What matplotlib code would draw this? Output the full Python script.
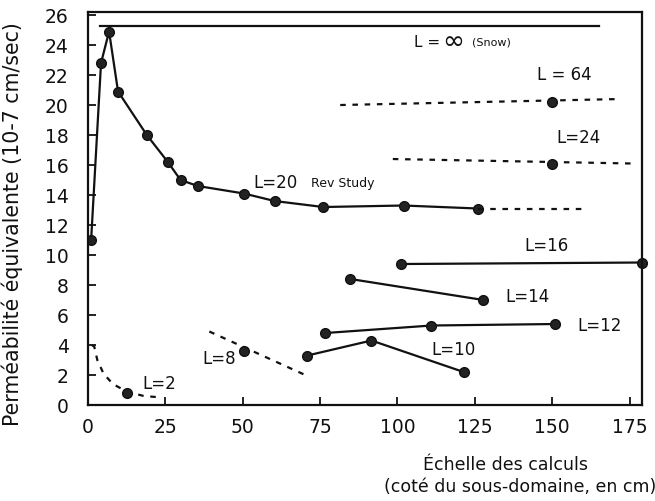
import matplotlib
matplotlib.use("Agg")
import matplotlib.pyplot as plt

plt.rcParams['font.family'] = ['DejaVu Sans']

# ---- data ----
snow_x = [4, 165]
snow_y = [25.3, 25.3]

l20_x = [1, 4.2, 6.8, 9.7, 19, 25.8, 29.9, 35.5, 50.4, 60.3, 76, 102, 126]
l20_y = [11.0, 22.8, 24.9, 20.9, 18.0, 16.2, 15.0, 14.6, 14.1, 13.6, 13.2, 13.3, 13.1]
l20_ext_x = [126, 160]
l20_ext_y = [13.1, 13.1]

l64_line_x = [81.5, 172]
l64_line_y = [20.0, 20.4]
l64_pt_x = [150]
l64_pt_y = [20.2]

l24_line_x = [98.5, 176]
l24_line_y = [16.4, 16.1]
l24_pt_x = [150]
l24_pt_y = [16.1]

l16_x = [101, 179]
l16_y = [9.4, 9.5]

l14_x = [84.8, 127.8]
l14_y = [8.4, 7.0]

l12_x = [76.7, 111, 151]
l12_y = [4.8, 5.3, 5.4]

l10_x = [70.9, 91.6, 121.4]
l10_y = [3.3, 4.3, 2.2]

l8_line_x = [39.2, 70.2]
l8_line_y = [4.9, 2.0]
l8_pt_x = [50.5]
l8_pt_y = [3.6]

l2_line_x = [1.2, 2.0, 3, 5, 8, 12.5, 18, 24]
l2_line_y = [4.0, 3.9, 3.0, 2.1, 1.4, 0.9, 0.6, 0.5]
l2_pt_x = [12.6]
l2_pt_y = [0.8]

xticks = [0, 25, 50, 75, 100, 125, 150, 175]
yticks = [0, 2, 4, 6, 8, 10, 12, 14, 16, 18, 20, 22, 24, 26]

# ---- figure ----
fig = plt.figure(figsize=(6.55, 5.01), dpi=100)
ax = fig.add_axes([0.1344, 0.1916, 0.8456, 0.7844])
ax.set_xlim(0, 179)
ax.set_ylim(0, 26.2)

k = '#111111'
mk = dict(marker='o', markersize=7, markerfacecolor='#222222', markeredgecolor='#111111')
dash = dict(color=k, lw=1.6, linestyle=(0, (2.5, 3)))

ax.plot(snow_x, snow_y, color=k, lw=1.6)
ax.plot(l20_x, l20_y, color=k, lw=1.6, **mk)
ax.plot(l20_ext_x, l20_ext_y, **dash)
ax.plot(l64_line_x, l64_line_y, **dash)
ax.plot(l64_pt_x, l64_pt_y, linestyle='none', **mk)
ax.plot(l24_line_x, l24_line_y, **dash)
ax.plot(l24_pt_x, l24_pt_y, linestyle='none', **mk)
ax.plot(l16_x, l16_y, color=k, lw=1.6, clip_on=False, **mk)
ax.plot(l14_x, l14_y, color=k, lw=1.6, **mk)
ax.plot(l12_x, l12_y, color=k, lw=1.6, **mk)
ax.plot(l10_x, l10_y, color=k, lw=1.6, **mk)
ax.plot(l8_line_x, l8_line_y, **dash)
ax.plot(l8_pt_x, l8_pt_y, linestyle='none', **mk)
ax.plot(l2_line_x, l2_line_y, **dash)
ax.plot(l2_pt_x, l2_pt_y, linestyle='none', **mk)

# labels
ax.text(105.5, 24.15, 'L =', fontsize=11, color=k, va='center')
ax.text(114.5, 24.2, '∞', fontsize=19, color=k, va='center')
ax.text(124.0, 24.2, '(Snow)', fontsize=8, color=k, va='center')
ax.text(145, 22.0, 'L = 64', fontsize=12, color=k, va='center')
ax.text(151.5, 17.8, 'L=24', fontsize=12, color=k, va='center')
ax.text(53.5, 14.8, 'L=20', fontsize=12, color=k, va='center')
ax.text(72, 14.8, 'Rev Study', fontsize=9, color=k, va='center')
ax.text(141, 10.6, 'L=16', fontsize=12, color=k, va='center')
ax.text(135, 7.2, 'L=14', fontsize=12, color=k, va='center')
ax.text(158, 5.3, 'L=12', fontsize=12, color=k, va='center')
ax.text(111, 3.7, 'L=10', fontsize=12, color=k, va='center')
ax.text(37, 3.1, 'L=8', fontsize=12, color=k, va='center')
ax.text(17.5, 1.4, 'L=2', fontsize=12, color=k, va='center')

ax.set_xticks(xticks)
ax.set_yticks(yticks)
ax.tick_params(axis='both', direction='in', length=6, width=1.3, labelsize=13.5, colors=k)
ax.tick_params(axis='y', pad=14)
ax.tick_params(axis='x', pad=9)
for s in ax.spines.values():
    s.set_linewidth(1.6)
    s.set_color(k)

ax.set_ylabel('Perméabilité équivalente (10-7 cm/sec)', fontsize=14.8, color=k, labelpad=1)
ax.yaxis.set_label_coords(-0.118, 0.46)
fig.text(0.7725, 0.072, 'Échelle des calculs', fontsize=12.5, ha='center', va='center', color=k)
fig.text(0.794, 0.028, '(coté du sous-domaine, en cm)', fontsize=12.5, ha='center', va='center', color=k)

fig.savefig('out.png', dpi=100)
